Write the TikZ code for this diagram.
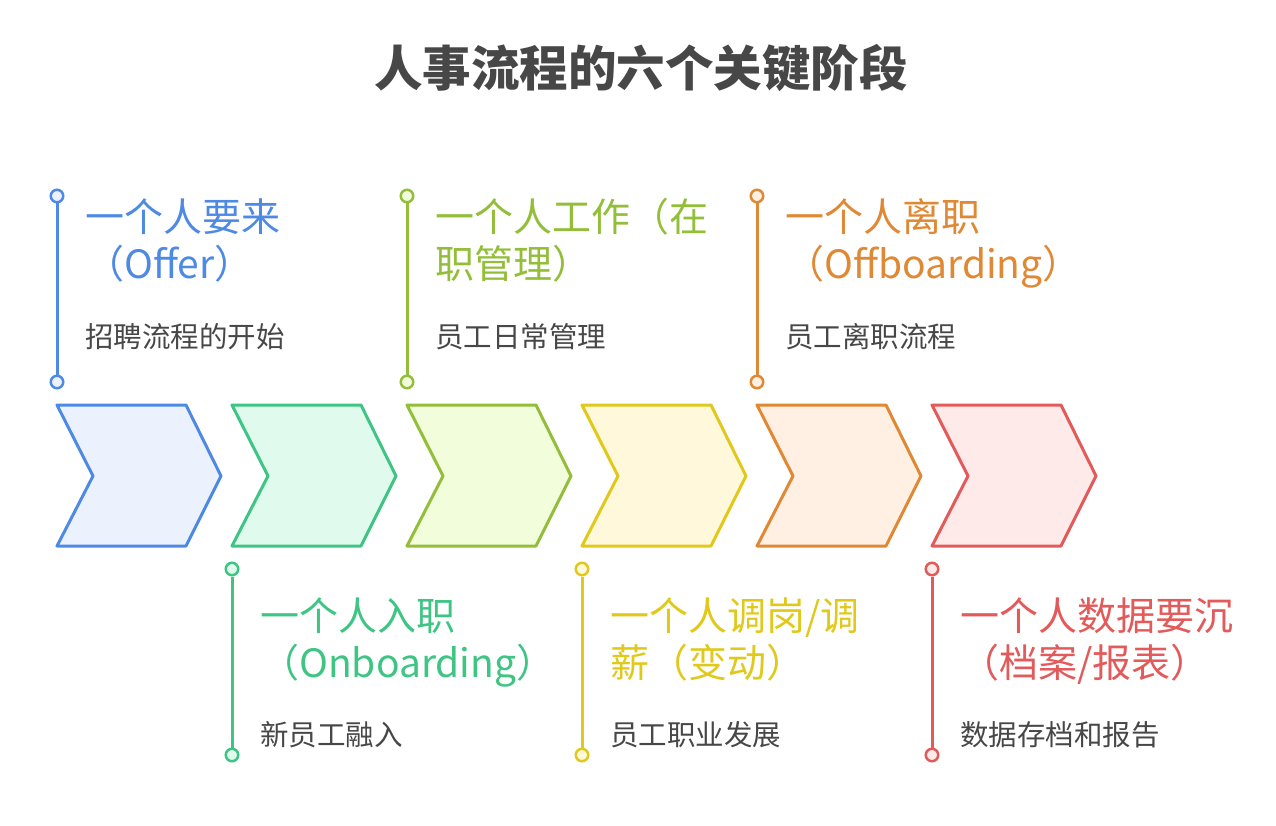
\documentclass[tikz,border=0pt]{standalone}
\usepackage{fontspec}
\setmainfont{Noto Sans CJK SC}

\definecolor{cblue}{HTML}{4E8AE4}
\definecolor{cbluel}{HTML}{EBF2FE}
\definecolor{cgreen}{HTML}{3EC584}
\definecolor{cgreenl}{HTML}{E0FBEE}
\definecolor{clime}{HTML}{93BE3A}
\definecolor{climel}{HTML}{F2FDDC}
\definecolor{cyellow}{HTML}{E1C91C}
\definecolor{cyellowl}{HTML}{FFF8DB}
\definecolor{corange}{HTML}{E08935}
\definecolor{corangel}{HTML}{FFF0E3}
\definecolor{cred}{HTML}{E35A5A}
\definecolor{credl}{HTML}{FFEAEA}
\definecolor{txtgray}{HTML}{474747}

\begin{document}
\begin{tikzpicture}[x=1pt,y=-1pt,
    chevron/.style={line width=3pt,line join=round},
    stageline/.style={line width=3pt},
    dot/.style={circle,inner sep=0pt,minimum size=12.5pt,line width=2.5pt},
    headtxt/.style={anchor=base west,inner sep=0pt,font=\fontsize{39}{47}\selectfont},
    bodytxt/.style={anchor=base west,inner sep=0pt,text=txtgray,font=\fontsize{28.5}{34}\selectfont}]
    \useasboundingbox (0,0) rectangle (1276,826);

    % Title
    \node[anchor=base,text=txtgray,font=\bfseries\fontsize{48.5}{58}\selectfont] (title) at (641,87) {人事流程的六个关键阶段};

    % Chevrons
    \draw[chevron,draw=cblue,fill=cbluel] (57,405) -- ++(129,0) -- ++(35,71) -- ++(-35,70) -- ++(-129,0) -- ++(36,-70) -- cycle;
    \draw[chevron,draw=cgreen,fill=cgreenl] (232,405) -- ++(129,0) -- ++(35,71) -- ++(-35,70) -- ++(-129,0) -- ++(36,-70) -- cycle;
    \draw[chevron,draw=clime,fill=climel] (407,405) -- ++(129,0) -- ++(35,71) -- ++(-35,70) -- ++(-129,0) -- ++(36,-70) -- cycle;
    \draw[chevron,draw=cyellow,fill=cyellowl] (582,405) -- ++(129,0) -- ++(35,71) -- ++(-35,70) -- ++(-129,0) -- ++(36,-70) -- cycle;
    \draw[chevron,draw=corange,fill=corangel] (757,405) -- ++(129,0) -- ++(35,71) -- ++(-35,70) -- ++(-129,0) -- ++(36,-70) -- cycle;
    \draw[chevron,draw=cred,fill=credl] (932,405) -- ++(129,0) -- ++(35,71) -- ++(-35,70) -- ++(-129,0) -- ++(36,-70) -- cycle;

    % Stage markers (top row)
    \node[dot,draw=cblue,fill=cbluel] (offertop) at (57,196) {};
    \node[dot,draw=cblue,fill=cbluel] (offerbot) at (57,382) {};
    \draw[stageline,cblue] (offertop) -- (offerbot);
    \node[dot,draw=clime,fill=climel] (worktop) at (407,196) {};
    \node[dot,draw=clime,fill=climel] (workbot) at (407,382) {};
    \draw[stageline,clime] (worktop) -- (workbot);
    \node[dot,draw=corange,fill=corangel] (leavetop) at (757,196) {};
    \node[dot,draw=corange,fill=corangel] (leavebot) at (757,382) {};
    \draw[stageline,corange] (leavetop) -- (leavebot);

    % Stage markers (bottom row)
    \node[dot,draw=cgreen,fill=cgreenl] (jointop) at (232,569) {};
    \node[dot,draw=cgreen,fill=cgreenl] (joinbot) at (232,755) {};
    \draw[stageline,cgreen] (jointop) -- (joinbot);
    \node[dot,draw=cyellow,fill=cyellowl] (movetop) at (582,569) {};
    \node[dot,draw=cyellow,fill=cyellowl] (movebot) at (582,755) {};
    \draw[stageline,cyellow] (movetop) -- (movebot);
    \node[dot,draw=cred,fill=credl] (archtop) at (932,569) {};
    \node[dot,draw=cred,fill=credl] (archbot) at (932,755) {};
    \draw[stageline,cred] (archtop) -- (archbot);

    % Labels (top row)
    \node[headtxt,text=cblue] (offerA) at (85,232) {一个人要来};
    \node[headtxt,text=cblue] (offerB) at (85,279) {（Offer）};
    \node[bodytxt] (offerC) at (85,347) {招聘流程的开始};
    \node[headtxt,text=clime] (workA) at (435,232) {一个人工作（在};
    \node[headtxt,text=clime] (workB) at (435,279) {职管理）};
    \node[bodytxt] (workC) at (435,347) {员工日常管理};
    \node[headtxt,text=corange] (leaveA) at (785,232) {一个人离职};
    \node[headtxt,text=corange] (leaveB) at (785,279) {（Offboarding）};
    \node[bodytxt] (leaveC) at (785,347) {员工离职流程};

    % Labels (bottom row)
    \node[headtxt,text=cgreen] (joinA) at (260,630) {一个人入职};
    \node[headtxt,text=cgreen] (joinB) at (260,677) {（Onboarding）};
    \node[bodytxt] (joinC) at (260,745) {新员工融入};
    \node[headtxt,text=cyellow] (moveA) at (610,630) {一个人调岗/调};
    \node[headtxt,text=cyellow] (moveB) at (610,677) {薪（变动）};
    \node[bodytxt] (moveC) at (610,745) {员工职业发展};
    \node[headtxt,text=cred] (archA) at (960,630) {一个人数据要沉};
    \node[headtxt,text=cred] (archB) at (960,677) {（档案/报表）};
    \node[bodytxt] (archC) at (960,745) {数据存档和报告};
\end{tikzpicture}
\end{document}
